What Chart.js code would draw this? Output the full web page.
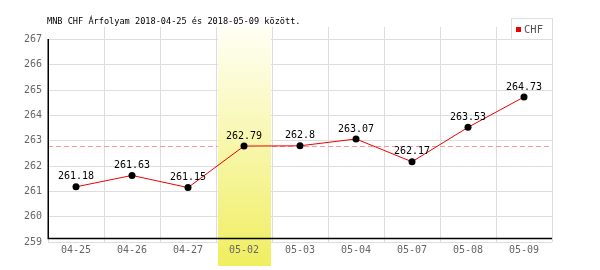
<!DOCTYPE html>
<html>
<head>
<meta charset="utf-8">
<script src="https://cdn.jsdelivr.net/npm/chart.js@4/dist/chart.umd.min.js"></script>
<style>
html,body{margin:0;padding:0;background:#fff;}
#wrap{width:600px;height:270px;position:relative;}
</style>
</head>
<body>
<div id="wrap"><canvas id="c" width="600" height="270"></canvas></div>
<script>
const titleText = 'MNB CHF Árfolyam 2018-04-25 és 2018-05-09 között.';
const categories = ['04-25','04-26','04-27','05-02','05-03','05-04','05-07','05-08','05-09'];
const chfValues = [261.18, 261.63, 261.15, 262.79, 262.8, 263.07, 262.17, 263.53, 264.73];
const seriesName = 'CHF';
const yTicks = [259, 260, 261, 262, 263, 264, 265, 266, 267];
const refValue = 262.79;
const highlightCategory = '05-02';

const mono = "'DejaVu Sans Mono', 'Liberation Mono', monospace";

const decor = {
  id: 'decor',
  beforeDatasetsDraw(chart) {
    const ctx = chart.ctx, a = chart.chartArea;
    const x = chart.scales.x, y = chart.scales.y;
    const step = (a.right - a.left) / categories.length;
    ctx.save();
    // vertical grid extensions above plot top
    ctx.strokeStyle = '#dddddd';
    ctx.lineWidth = 1;
    ctx.beginPath();
    for (let i = 1; i < categories.length; i++) {
      const gx = Math.round(x.getPixelForValue(i) - step / 2) + 0.5;
      ctx.moveTo(gx, 27); ctx.lineTo(gx, a.top);
    }
    ctx.stroke();
    // reference dashed line
    const ry = Math.round(y.getPixelForValue(refValue)) + 0.5;
    ctx.strokeStyle = '#ff9999';
    ctx.setLineDash([5, 3]);
    ctx.beginPath(); ctx.moveTo(a.left, ry); ctx.lineTo(a.right, ry); ctx.stroke();
    ctx.setLineDash([]);
    // highlight band
    const hi = categories.indexOf(highlightCategory);
    const cx = x.getPixelForValue(hi);
    const bx0 = Math.round(cx - step / 2) + 2, bx1 = Math.round(cx + step / 2) - 1;
    const g = ctx.createLinearGradient(0, 26, 0, 266);
    g.addColorStop(0, '#fffff6');
    g.addColorStop(1, '#f0ee60');
    ctx.fillStyle = g;
    ctx.fillRect(bx0, 26, bx1 - bx0, 240);
    // black axes
    ctx.strokeStyle = '#000';
    ctx.lineWidth = 1.5;
    ctx.beginPath();
    ctx.moveTo(a.left + 0.25, a.top - 0.5);
    ctx.lineTo(a.left + 0.25, a.bottom - 3.5);
    ctx.lineTo(a.right, a.bottom - 3.5);
    ctx.stroke();
    ctx.restore();
  },
  afterDatasetsDraw(chart) {
    const ctx = chart.ctx;
    const meta = chart.getDatasetMeta(0);
    const data = chart.data.datasets[0].data;
    ctx.save();
    ctx.fillStyle = '#000';
    ctx.font = '10px ' + mono;
    ctx.textAlign = 'center';
    ctx.textBaseline = 'middle';
    meta.data.forEach((p, i) => {
      ctx.fillText(String(data[i]), p.x, p.y - 10);
    });
    ctx.restore();
  },
  afterDraw(chart) {
    const ctx = chart.ctx;
    ctx.save();
    // title
    ctx.fillStyle = '#000';
    ctx.font = '8.6px ' + mono;
    ctx.textAlign = 'left';
    ctx.textBaseline = 'middle';
    ctx.fillText(titleText, 47, 22);
    // legend box
    const lx = 511.5, ly = 18.5, lw = 41, lh = 21;
    ctx.fillStyle = '#fff';
    ctx.fillRect(lx, ly, lw, lh);
    ctx.strokeStyle = '#dddddd';
    ctx.lineWidth = 1;
    ctx.strokeRect(lx, ly, lw, lh);
    const ds = chart.data.datasets[0];
    ctx.fillStyle = '#ee0000';
    ctx.fillRect(516, 27, 5, 5);
    ctx.fillStyle = '#555';
    ctx.font = '10.5px ' + mono;
    ctx.fillText(ds.label, 524, 30);
    ctx.restore();
  }
};

new Chart(document.getElementById('c'), {
  type: 'line',
  data: {
    labels: categories,
    datasets: [{
      label: seriesName,
      data: chfValues,
      borderColor: '#ee0000',
      borderWidth: 1,
      tension: 0,
      pointRadius: 3.5,
      pointBackgroundColor: '#000',
      pointBorderWidth: 0,
      pointHoverRadius: 3.5
    }]
  },
  options: {
    responsive: false,
    animation: false,
    events: [],
    layout: { padding: { left: 0, right: 48, top: 39.5, bottom: 0 } },
    plugins: { legend: { display: false }, title: { display: false }, tooltip: { enabled: false } },
    scales: {
      x: {
        type: 'category',
        offset: true,
        grid: { offset: true, color: '#dddddd', lineWidth: 1, drawTicks: false },
        border: { display: false },
        ticks: { z: 1, color: '#666', font: { family: mono, size: 10 }, padding: 2, maxRotation: 0, autoSkip: false },
        afterFit(s) { s.height = 28; }
      },
      y: {
        min: yTicks[0],
        max: yTicks[yTicks.length - 1],
        afterBuildTicks(s) { s.ticks = yTicks.map(v => ({ value: v })); },
        grid: { color: '#dddddd', lineWidth: 1, drawTicks: false },
        border: { display: false },
        ticks: { color: '#666', font: { family: mono, size: 10 }, padding: 6, callback: v => String(v) },
        afterFit(s) { s.width = 48; }
      }
    }
  },
  plugins: [decor]
});
</script>
</body>
</html>
